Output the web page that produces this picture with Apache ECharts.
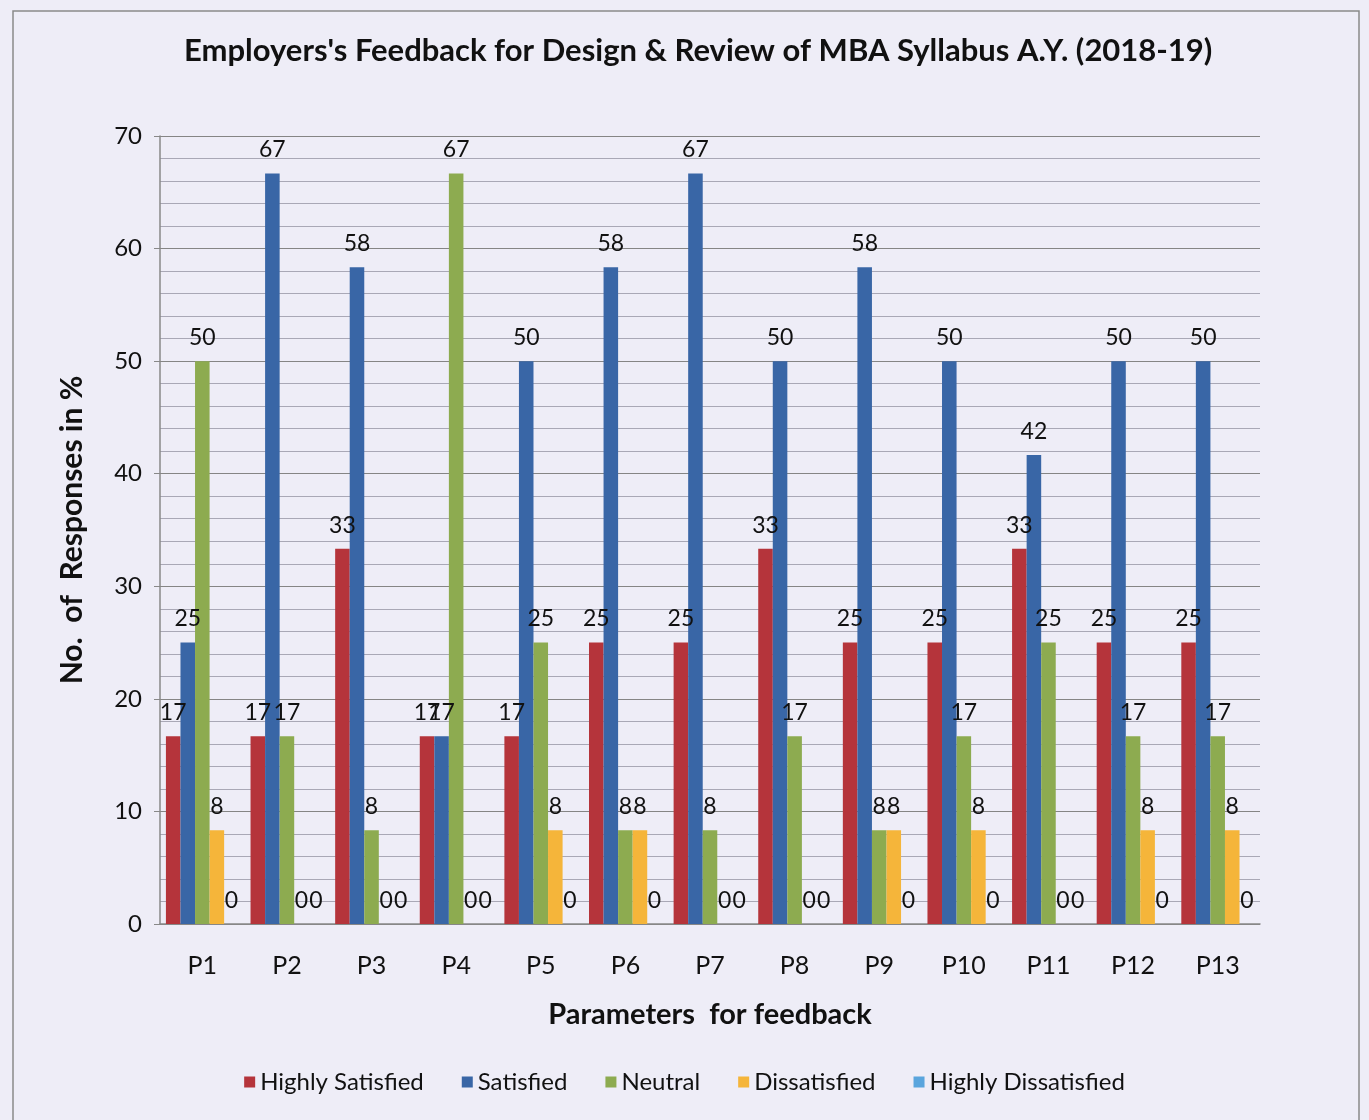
<!DOCTYPE html>
<html>
<head>
<meta charset="utf-8">
<script src="https://cdn.jsdelivr.net/npm/echarts@6/dist/echarts.min.js"></script>
<style>
html,body{margin:0;padding:0;background:#eeedf7;}
#chart{width:1369px;height:1120px;}
</style>
</head>
<body>
<div id="chart"></div>
<script>
var categories = ['P1','P2','P3','P4','P5','P6','P7','P8','P9','P10','P11','P12','P13'];
var highlySatisfied = [16.67,16.67,33.33,16.67,16.67,25,25,33.33,25,25,33.33,25,25];
var satisfied = [25,66.67,58.33,16.67,50,58.33,66.67,50,58.33,50,41.67,50,50];
var neutral = [50,16.67,8.33,66.67,25,8.33,8.33,16.67,8.33,16.67,25,16.67,16.67];
var dissatisfied = [8.33,0,0,0,8.33,8.33,0,0,8.33,8.33,0,8.33,8.33];
var highlyDissatisfied = [0,0,0,0,0,0,0,0,0,0,0,0,0];
var seriesNames = ['Highly Satisfied','Satisfied','Neutral','Dissatisfied','Highly Dissatisfied'];
var yTicks = [0,10,20,30,40,50,60,70];

var FONT = 'Lato, "Open Sans", sans-serif';
var colors = ['#b5343b','#3966a6','#8dab50','#f5b53a','#5aa5dd'];
var dataSets = [highlySatisfied, satisfied, neutral, dissatisfied, highlyDissatisfied];

var chart = echarts.init(document.getElementById('chart'));

var series = dataSets.map(function(arr, i){
  return {
    name: seriesNames[i],
    type: 'bar',
    data: arr,
    barGap: '0%',
    barCategoryGap: '14%',
    itemStyle: {color: colors[i]},
    label: {
      show: true,
      position: 'top',
      distance: 12,
      fontFamily: FONT,
      fontSize: 23,
      color: '#111',
      formatter: function(p){ return Math.round(p.value); }
    }
  };
});

chart.setOption({
  backgroundColor: '#eeedf7',
  animation: false,
  color: colors,
  title: {
    text: "Employers's Feedback for Design & Review of MBA Syllabus A.Y. (2018-19)",
    left: 179,
    top: 30,
    textStyle: {fontFamily: FONT, fontWeight: 'bold', fontSize: 31, color: '#111'}
  },
  legend: {
    bottom: 21,
    left: 'center',
    itemWidth: 11,
    itemHeight: 11,
    itemGap: 38,
    icon: 'rect',
    textStyle: {fontFamily: FONT, fontSize: 24, color: '#111'},
    data: seriesNames
  },
  grid: {left: 160, right: 109, top: 136, bottom: 196, containLabel: false},
  xAxis: {
    type: 'category',
    data: categories,
    name: 'Parameters  for feedback',
    nameLocation: 'middle',
    nameGap: 76,
    nameTextStyle: {fontFamily: FONT, fontWeight: 'bold', fontSize: 29, color: '#111'},
    axisLine: {show: true, lineStyle: {color: '#888', width: 1.5}},
    axisTick: {show: false},
    axisLabel: {fontFamily: FONT, fontSize: 25, color: '#111', margin: 29}
  },
  yAxis: {
    type: 'value',
    min: 0,
    max: 70,
    interval: 10,
    name: 'No.  of  Responses in %',
    nameLocation: 'middle',
    nameGap: 73,
    nameTextStyle: {fontFamily: FONT, fontWeight: 'bold', fontSize: 30, color: '#111'},
    axisLine: {show: true, lineStyle: {color: '#888', width: 1.5}},
    axisTick: {show: true, length: 6, lineStyle: {color: '#888'}},
    axisLabel: {fontFamily: FONT, fontSize: 24, color: '#111', margin: 18,
      formatter: function(v){ return yTicks.indexOf(v) >= 0 ? String(v) : ''; }},
    splitLine: {show: true, lineStyle: {color: '#858585', width: 1.2}},
    minorTick: {show: false, splitNumber: 5},
    minorSplitLine: {show: true, lineStyle: {color: '#a9a8b6', width: 1}}
  },
  graphic: [{
    type: 'rect',
    shape: {x: 13, y: 11, width: 1346, height: 1130},
    style: {fill: null, stroke: '#8a8a8a', lineWidth: 1.5},
    silent: true,
    z: -1
  }],
  series: series
});
</script>
</body>
</html>
